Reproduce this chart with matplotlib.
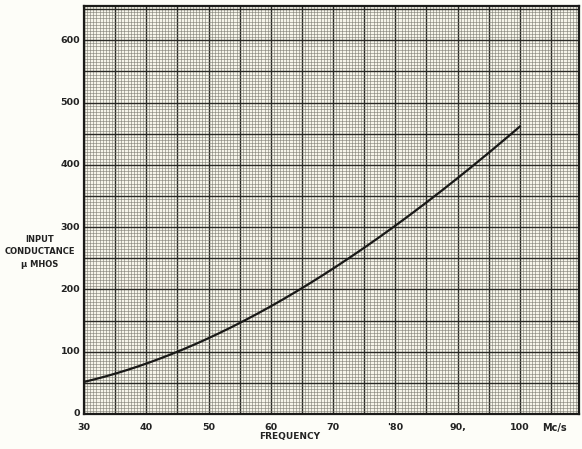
import matplotlib.pyplot as plt
import numpy as np
from matplotlib.ticker import MultipleLocator

# input conductance vs frequency
freq = [30, 40, 50, 60, 70, 80, 90, 100]
cond = [51, 82, 122, 172, 231, 307, 376, 462]

xticks = [30, 40, 50, 60, 70, 80, 90, 100]
xlabels = ['30', '40', '50', '60', '70', "'80", '90,', '100']
yticks = [0, 100, 200, 300, 400, 500, 600]

fig = plt.figure(figsize=(5.82, 4.49), dpi=100)
fig.patch.set_facecolor('#fdfdf8')
ax = fig.add_axes([84/582, 1 - 414/449, 495/582, 408/449])
ax.set_facecolor('#f6f5ea')

ax.set_xlim(30, 109.5)
ax.set_ylim(0, 655)

ax.xaxis.set_major_locator(MultipleLocator(5))
ax.yaxis.set_major_locator(MultipleLocator(50))
ax.xaxis.set_minor_locator(MultipleLocator(0.5))
ax.yaxis.set_minor_locator(MultipleLocator(5))
ax.grid(which='major', color='#2a2a26', lw=1.0)
ax.grid(which='minor', color='#7a7a70', lw=0.4)
ax.set_axisbelow(True)

# smooth curve through the read points
xs = np.linspace(30, 100, 200)
coef = np.polyfit(freq, cond, 3)
ax.plot(xs, np.polyval(coef, xs), color='#1a1a18', lw=1.6)

ax.tick_params(which='both', length=0)
ax.set_xticklabels([])
ax.set_yticklabels([])

for x, lab in zip(xticks, xlabels):
    ax.text(x, -14, lab, ha='center', va='top', fontsize=6.8,
            fontweight='bold', color='#222222')
for y in yticks:
    ax.text(29.4, y, str(y), ha='right', va='center', fontsize=6.8,
            fontweight='bold', color='#222222')

ax.text(103.5, -14, 'Mc/s', ha='left', va='top', fontsize=7,
        fontweight='bold', color='#222222')
fig.text(290/582, 1 - 437/449, 'FREQUENCY', ha='center', va='center',
         fontsize=6.5, fontweight='bold', color='#222222')
fig.text(40/582, 1 - 252/449, 'INPUT\nCONDUCTANCE\n\u03bc MHOS', ha='center',
         va='center', fontsize=6, fontweight='bold', color='#222222',
         linespacing=1.5)

for s in ax.spines.values():
    s.set_color('#1a1a18')
    s.set_linewidth(1.6)

fig.savefig('out.png', dpi=100, facecolor=fig.get_facecolor())
